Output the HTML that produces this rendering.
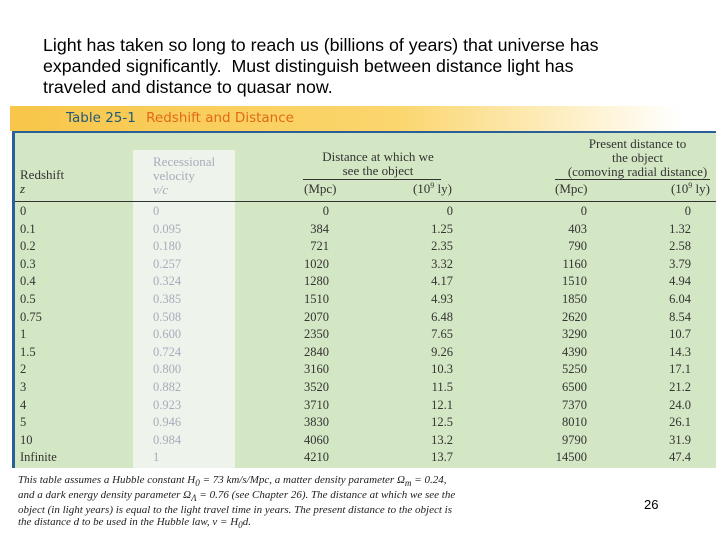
<!DOCTYPE html>
<html><head><meta charset="utf-8"><style>
body{margin:0;width:720px;height:540px;background:#fff;position:relative;overflow:hidden;font-family:"Liberation Serif",serif}
.a{position:absolute;white-space:nowrap}
#intro{left:43px;top:35px;font-family:"Liberation Sans",sans-serif;font-size:17.8px;line-height:21px;color:#000}
#title{left:10px;top:106px;width:706px;height:25px;background:linear-gradient(90deg,#f7c64a 0%,#fbd66e 55%,#fff 95%)}
#tbl{left:12px;top:131px;width:704px;height:337px;background:#d4e7c4;border-left:3px solid #2a5f98;border-top:2px solid #2a5f98;box-sizing:border-box}
#vcol{left:133px;top:150px;width:102px;height:318px;background:#eef4ec}
.h{font-size:13px;color:#333;line-height:14px}
.c{font-size:12.5px;color:#333}
.v{color:#aab}
sup{font-size:8px;line-height:0;vertical-align:5px}
#note{left:18px;top:474px;font-style:italic;font-size:11px;line-height:12px;color:#222}
</style></head><body>
<div class="a" id="intro">Light has taken so long to reach us (billions of years) that universe has<br>expanded significantly.&nbsp; Must distinguish between distance light has<br>traveled and distance to quasar now.</div>
<div class="a" id="title"><span style="position:absolute;left:56px;top:4px;font-family:'DejaVu Sans',sans-serif;font-size:13.5px;color:#1f5a7a">Table 25-1 <span style="color:#e06a1a;margin-left:6px">Redshift and Distance</span></span></div>
<div class="a" id="tbl"></div>
<div class="a" id="vcol"></div>
<div class="a h" style="left:20px;top:168px">Redshift<br><i>z</i></div>
<div class="a h v" style="left:153px;top:155px;color:#aab">Recessional<br>velocity<br><i>v/c</i></div>
<div class="a h" style="left:303px;top:150px;width:150px;text-align:center">Distance at which we<br>see the object</div>
<div class="a" style="left:303px;top:179px;width:138px;border-top:1px solid #333"></div>
<div class="a h" style="left:555px;top:137px;width:165px;text-align:center">Present distance to<br>the object<br>(comoving radial distance)</div>
<div class="a" style="left:555px;top:179px;width:155px;border-top:1px solid #333"></div>
<div class="a h" style="left:304px;top:182px">(Mpc)</div>
<div class="a h" style="left:396px;top:182px;width:56px;text-align:right">(10<sup>9</sup> ly)</div>
<div class="a h" style="left:555px;top:182px">(Mpc)</div>
<div class="a h" style="left:640px;top:182px;width:70px;text-align:right">(10<sup>9</sup> ly)</div>
<div class="a" style="left:15px;top:201px;width:701px;border-top:1px solid #333"></div>
<div id="rows"></div>
<div class="a" id="note">This table assumes a Hubble constant H<sub>0</sub> = 73 km/s/Mpc, a matter density parameter Ω<sub>m</sub> = 0.24,<br>and a dark energy density parameter Ω<sub>Λ</sub> = 0.76 (see Chapter 26). The distance at which we see the<br>object (in light years) is equal to the light travel time in years. The present distance to the object is<br>the distance d to be used in the Hubble law, v = H<sub>0</sub>d.</div>
<div class="a" style="left:644px;top:497px;font-family:'Liberation Sans',sans-serif;font-size:13px">26</div>
<script>
const redshift=["0","0.1","0.2","0.3","0.4","0.5","0.75","1","1.5","2","3","4","5","10","Infinite"];
const velocity=["0","0.095","0.180","0.257","0.324","0.385","0.508","0.600","0.724","0.800","0.882","0.923","0.946","0.984","1"];
const seenMpc=["0","384","721","1020","1280","1510","2070","2350","2840","3160","3520","3710","3830","4060","4210"];
const seenLy=["0","1.25","2.35","3.32","4.17","4.93","6.48","7.65","9.26","10.3","11.5","12.1","12.5","13.2","13.7"];
const nowMpc=["0","403","790","1160","1510","1850","2620","3290","4390","5250","6500","7370","8010","9790","14500"];
const nowLy=["0","1.32","2.58","3.79","4.94","6.04","8.54","10.7","14.3","17.1","21.2","24.0","26.1","31.9","47.4"];
const root=document.getElementById('rows');
function cell(txt,x,y,align,cls){const d=document.createElement('div');d.className='a c '+(cls||'');d.textContent=txt;d.style.top=y+'px';
if(align==='r'){d.style.left=(x-80)+'px';d.style.width='80px';d.style.textAlign='right';}else d.style.left=x+'px';


root.appendChild(d);}
redshift.forEach((z,i)=>{const y=204+i*17.6;
cell(z,20,y,'l');cell(velocity[i],153,y,'l','v');cell(seenMpc[i],329,y,'r');cell(seenLy[i],453,y,'r');cell(nowMpc[i],587,y,'r');cell(nowLy[i],691,y,'r');});
</script>
</body></html>
